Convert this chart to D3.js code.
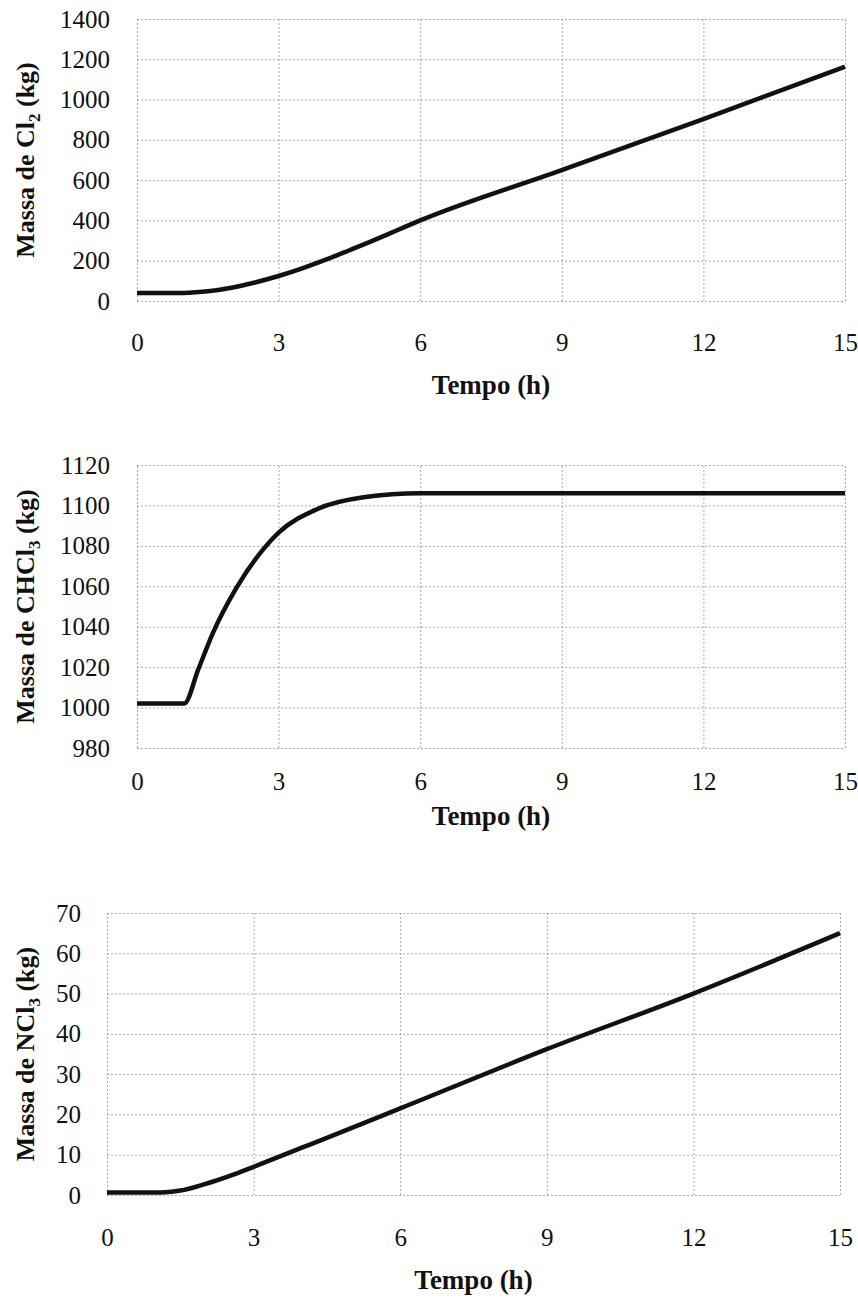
<!DOCTYPE html>
<html>
<head>
<meta charset="utf-8">
<script src="https://cdn.jsdelivr.net/npm/d3@7"></script>
<style>
  body { margin: 0; background: #fff; }
  svg { display: block; }
  .tick text { font-family: "Liberation Serif", "Times New Roman", serif; fill: #111; }
  .title { font-family: "Liberation Serif", "Times New Roman", serif; font-weight: bold; fill: #111; }
</style>
</head>
<body>
<svg id="chart" width="858" height="1301"></svg>
<script>
// shared x axis
var xTicks = [0, 3, 6, 9, 12, 15];

// Cl2 mass (kg) vs time (h)
var timeCl2 = [0, 0.5, 1, 1.1, 1.5, 2, 2.5, 3, 3.5, 4, 4.5, 5, 5.5, 6, 9, 12, 15];
var massCl2 = [40, 40, 40, 41, 48, 66, 92, 124, 162, 205, 252, 300, 350, 400, 650, 903, 1163];
var ticksCl2 = [0, 200, 400, 600, 800, 1000, 1200, 1400];

// CHCl3 mass (kg) vs time (h)
var timeCHCl3 = [0, 0.5, 1, 1.3, 1.6, 2.1, 2.7, 3, 3.8, 4.8, 6, 9, 12, 15];
var massCHCl3 = [1002, 1002, 1002, 1019, 1036.5, 1059, 1079, 1086.5, 1098, 1104, 1106, 1106, 1106, 1106];
var ticksCHCl3 = [980, 1000, 1020, 1040, 1060, 1080, 1100, 1120];

// NCl3 mass (kg) vs time (h)
var timeNCl3 = [0, 0.5, 1, 1.2, 1.5, 2, 2.5, 3, 4, 4.5, 6, 9, 12, 15];
var massNCl3 = [0.6, 0.6, 0.6, 0.7, 1.1, 2.7, 4.7, 7, 11.8, 14.2, 21.5, 36.2, 50, 65];
var ticksNCl3 = [0, 10, 20, 30, 40, 50, 60, 70];

var svg = d3.select("#chart");

var panels = [
  { t: timeCl2, m: massCl2, ticks: ticksCl2, sub: "2", name: "Cl",
    left: 137, right: 845, top: 19, bottom: 301, yPad: 27, xPad: 32, xTitle: 93 },
  { t: timeCHCl3, m: massCHCl3, ticks: ticksCHCl3, sub: "3", name: "CHCl",
    left: 137, right: 845, top: 465, bottom: 748, yPad: 27, xPad: 24, xTitle: 77 },
  { t: timeNCl3, m: massNCl3, ticks: ticksNCl3, sub: "3", name: "NCl",
    left: 107, right: 840, top: 913, bottom: 1195, yPad: 26, xPad: 33, xTitle: 94 }
];

panels.forEach(function(p) {
  var w = p.right - p.left, h = p.bottom - p.top;
  var x = d3.scaleLinear().domain([0, 15]).range([0, w]);
  var y = d3.scaleLinear().domain(d3.extent(p.ticks)).range([h, 0]);

  var g = svg.append("g").attr("transform", "translate(" + p.left + "," + p.top + ")");

  // grid + tick labels
  var gx = g.append("g")
    .attr("transform", "translate(0," + h + ")")
    .call(d3.axisBottom(x).tickValues(xTicks).tickSize(-h).tickPadding(p.xPad)
      .tickFormat(d3.format("d")));
  var gy = g.append("g")
    .call(d3.axisLeft(y).tickValues(p.ticks).tickSize(-w).tickPadding(p.yPad)
      .tickFormat(d3.format("d")));

  [gx, gy].forEach(function(a) {
    a.select(".domain").remove();
    a.selectAll(".tick line")
      .attr("stroke", "#a0a0a0")
      .attr("stroke-width", 0.9)
      .attr("stroke-dasharray", "2,2");
    a.selectAll(".tick text").style("font-size", "25px");
  });

  // the curve
  var pts = p.t.map(function(d, i) { return [d, p.m[i]]; });
  g.append("path")
    .datum(pts)
    .attr("fill", "none")
    .attr("stroke", "#111")
    .attr("stroke-width", 4.5)
    .attr("stroke-linejoin", "round")
    .attr("d", d3.line()
      .x(function(d) { return x(d[0]); })
      .y(function(d) { return y(d[1]); })
      .curve(d3.curveMonotoneX));

  // x title
  g.append("text")
    .attr("class", "title")
    .attr("x", w / 2)
    .attr("y", h + p.xTitle)
    .attr("text-anchor", "middle")
    .style("font-size", "27px")
    .text("Tempo (h)");

  // y title with subscript
  var yt = g.append("text")
    .attr("class", "title")
    .attr("transform", "translate(" + (34 - p.left) + "," + (h / 2) + ") rotate(-90)")
    .attr("text-anchor", "middle")
    .style("font-size", "26px");
  yt.append("tspan").text("Massa de " + p.name);
  yt.append("tspan").attr("dy", 6).style("font-size", "17px").text(p.sub);
  yt.append("tspan").attr("dy", -6).text(" (kg)");
});
</script>
</body>
</html>
